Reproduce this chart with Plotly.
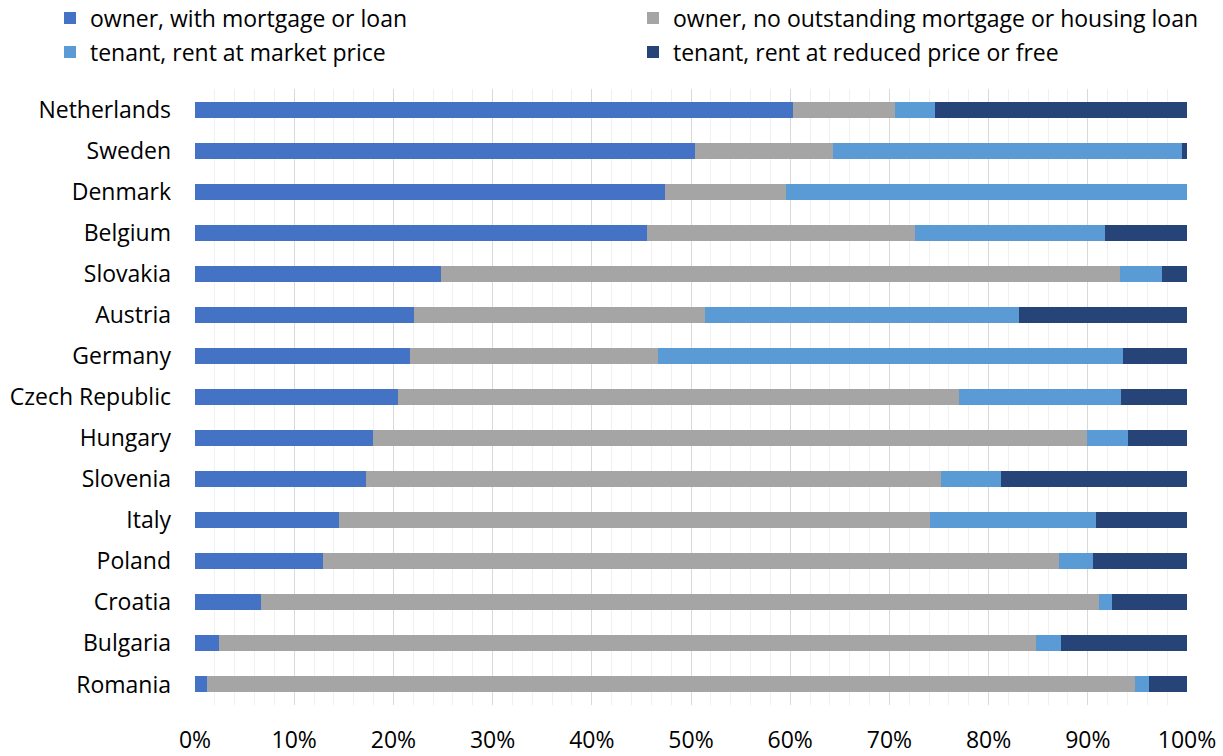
import plotly.graph_objects as go

countries = ["Netherlands", "Sweden", "Denmark", "Belgium", "Slovakia", "Austria",
             "Germany", "Czech Republic", "Hungary", "Slovenia", "Italy", "Poland",
             "Croatia", "Bulgaria", "Romania"]

owner_mortgage = [60.3, 50.4, 47.4, 45.6, 24.8, 22.1, 21.7, 20.5, 17.9, 17.2, 14.5, 12.9, 6.7, 2.4, 1.2]
owner_outright = [10.3, 13.9, 12.2, 27.0, 68.4, 29.3, 25.0, 56.5, 72.0, 58.0, 59.6, 74.2, 84.4, 82.4, 93.6]
tenant_market = [4.0, 35.2, 40.4, 19.1, 4.3, 31.7, 46.8, 16.3, 4.2, 6.0, 16.7, 3.4, 1.3, 2.5, 1.4]
tenant_reduced = [25.4, 0.5, 0.0, 8.3, 2.5, 16.9, 6.5, 6.7, 5.9, 18.8, 9.2, 9.5, 7.6, 12.7, 3.8]

series = [
    ("owner, with mortgage or loan", owner_mortgage, "#4472C4", "legend"),
    ("owner, no outstanding mortgage or housing loan", owner_outright, "#A5A5A5", "legend2"),
    ("tenant, rent at market price", tenant_market, "#5B9BD5", "legend3"),
    ("tenant, rent at reduced price or free", tenant_reduced, "#264478", "legend4"),
]

W, H = 1223, 756
FONT = "Open Sans"
FS = 23

fig = go.Figure()
for name, vals, color, lg in series:
    fig.add_trace(go.Bar(
        y=countries, x=vals, name=name, orientation="h",
        marker=dict(color=color, line=dict(width=0)),
        legend=lg, showlegend=True, hoverinfo="x+y+name",
    ))


def legend_box(px_x, px_y):
    return dict(
        xref="container", yref="container",
        x=px_x / W, y=1 - px_y / H, xanchor="left", yanchor="middle",
        bgcolor="rgba(0,0,0,0)", borderwidth=0,
        font=dict(family=FONT, size=FS, color="#000000"),
        itemwidth=30,
    )


fig.update_layout(
    width=W, height=H,
    showlegend=True,
    barmode="stack", bargap=0.61,
    plot_bgcolor="white", paper_bgcolor="white",
    margin=dict(l=195, r=36, t=89, b=51, autoexpand=False),
    font=dict(family=FONT, size=FS, color="#000000"),
    legend=legend_box(50, 18),
    legend2=legend_box(633, 18),
    legend3=legend_box(50, 52),
    legend4=legend_box(633, 52),
    xaxis=dict(
        range=[0, 100], dtick=10, ticksuffix="%",
        showgrid=True, gridcolor="#D9D9D9", gridwidth=1,
        minor=dict(dtick=2, showgrid=True, gridcolor="#F0F0F0", gridwidth=1),
        zeroline=False, showline=False,
        ticklabelstandoff=19,
        tickfont=dict(family=FONT, size=FS, color="#000000"),
        fixedrange=True,
    ),
    yaxis=dict(
        categoryorder="array", categoryarray=countries, autorange="reversed",
        showgrid=False, zeroline=False, showline=False,
        ticklabelstandoff=23,
        tickfont=dict(family=FONT, size=FS, color="#000000"),
        fixedrange=True,
    ),
)

fig.write_html("out.html")
